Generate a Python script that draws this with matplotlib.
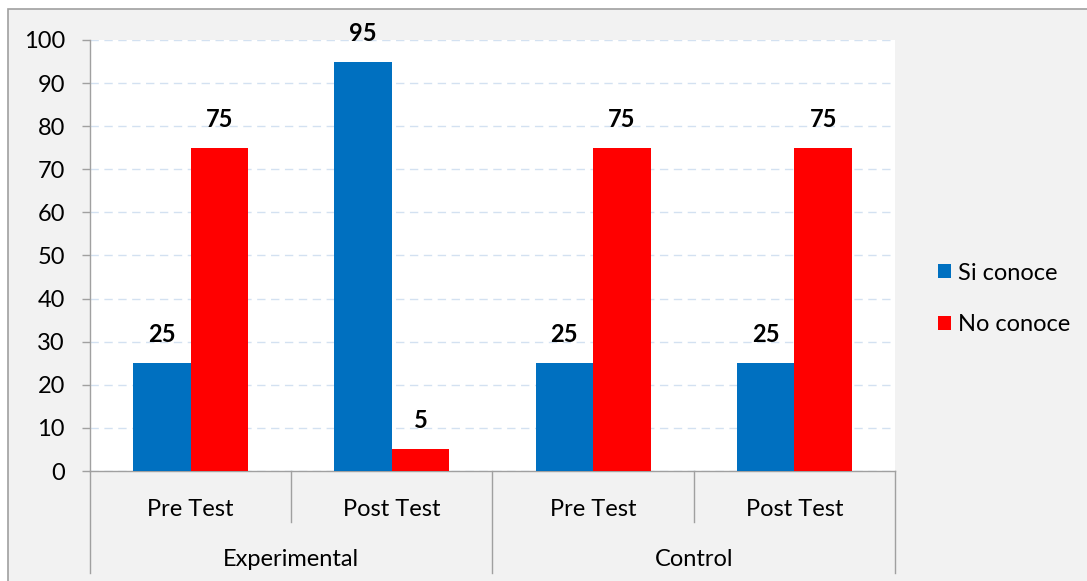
import matplotlib
matplotlib.use("Agg")
import matplotlib.pyplot as plt
from matplotlib.patches import Rectangle, Patch
import numpy as np

plt.rcParams['font.family'] = ['Lato', 'DejaVu Sans']

groups = ["Experimental", "Control"]
tests = ["Pre Test", "Post Test", "Pre Test", "Post Test"]
si_conoce = [25, 95, 25, 25]
no_conoce = [75, 5, 75, 75]
series_names = ["Si conoce", "No conoce"]
colors = ["#0070C0", "#FF0000"]
yticks = [0, 10, 20, 30, 40, 50, 60, 70, 80, 90, 100]

FS = 17
W, H = 1087, 581
fig = plt.figure(figsize=(W / 100, H / 100), dpi=100)
fig.patch.set_facecolor("white")
bg = Rectangle((8 / W, -0.01), 1.02 - 8 / W, 1 - 9 / H + 0.01, transform=fig.transFigure,
               facecolor="#F2F2F2", edgecolor="#A0A0A0", linewidth=1.2, zorder=-10)
fig.patches.append(bg)

ax = fig.add_axes([90 / W, (H - 471) / H, (895 - 90) / W, (471 - 40) / H])
ax.set_zorder(1)
ax.set_facecolor("white")

x = np.arange(len(tests))
bw = 0.286
b1 = ax.bar(x - bw / 2, si_conoce, bw, color=colors[0], zorder=3)
b2 = ax.bar(x + bw / 2, no_conoce, bw, color=colors[1], zorder=3)

for bars, vals in ((b1, si_conoce), (b2, no_conoce)):
    for rect, v in zip(bars, vals):
        ax.annotate(f"{v}", (rect.get_x() + rect.get_width() / 2, v),
                    xytext=(0, 17), textcoords="offset pixels",
                    ha="center", va="bottom", fontsize=FS, fontweight="bold", color="black")

ax.set_xlim(-0.5, len(tests) - 0.5)
ax.set_ylim(0, 100)
ax.set_yticks(yticks)
ax.set_yticklabels([str(t) for t in yticks], fontsize=FS, color="black")
ax.tick_params(axis="y", length=6, color="#A0A0A0", width=1, pad=12)
ax.set_xticks([])
ax.yaxis.grid(True, linestyle=(0, (6, 4)), color="#D3E1F1", linewidth=1, zorder=0)
ax.set_axisbelow(True)
for s in ("top", "right"):
    ax.spines[s].set_visible(False)
for s in ("left", "bottom"):
    ax.spines[s].set_color("#A0A0A0")
    ax.spines[s].set_linewidth(1)

trans = ax.get_xaxis_transform()
ph = 471 - 40
inner_y = -(522 - 471) / ph
outer_y = -(573 - 471) / ph
for xv in [-0.5, 1.5, 3.5]:
    ax.plot([xv, xv], [0, outer_y], transform=trans, color="#A0A0A0", lw=1, clip_on=False)
for xv in [0.5, 2.5]:
    ax.plot([xv, xv], [0, inner_y], transform=trans, color="#A0A0A0", lw=1, clip_on=False)

for xi, t in zip(x, tests):
    ax.text(xi, -(509 - 471) / ph, t, transform=trans, ha="center", va="center", fontsize=FS)
for gi, g in enumerate(groups):
    ax.text(gi * 2 + 0.5, -(559 - 471) / ph, g, transform=trans, ha="center", va="center", fontsize=FS)

handles = [Patch(facecolor=c, edgecolor="none") for c in colors]
fig.legend(handles, series_names, loc="center left", bbox_to_anchor=(917 / W, 1 - 299 / H),
           frameon=False, fontsize=FS, handlelength=0.55, handleheight=0.55,
           handletextpad=0.3, labelspacing=1.3)

fig.savefig("out.png", dpi=100, facecolor=fig.get_facecolor())
